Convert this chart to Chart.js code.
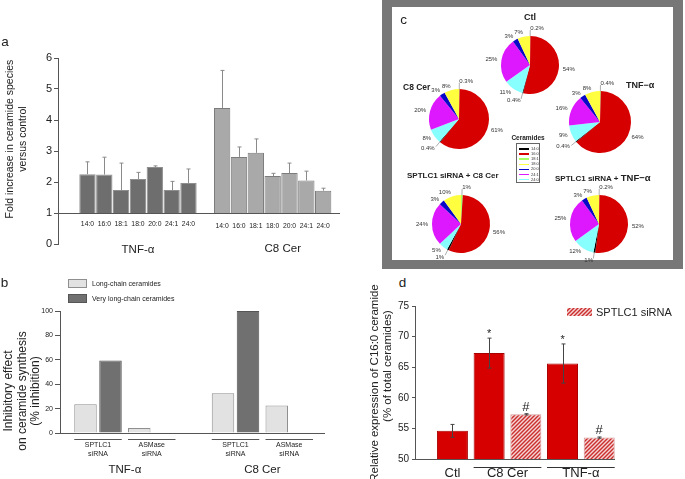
<!DOCTYPE html>
<html>
<head>
<meta charset="utf-8">
<script src="https://cdn.jsdelivr.net/npm/chart.js@4.4.0/dist/chart.umd.min.js"></script>
<style>
  html, body { margin: 0; padding: 0; background: #fff; }
  body { width: 685px; height: 479px; position: relative; overflow: hidden;
         font-family: "Liberation Sans", Arial, sans-serif; color: #222; }
  .box { position: absolute; }
  .t { position: absolute; white-space: nowrap; line-height: 1; text-align: center; }
  #frame { position: absolute; left: 382px; top: 0; width: 281px; height: 253px;
           border-style: solid; border-color: #777; border-width: 7px 10px 9px 10px; background: #fff; }
</style>
</head>
<body>
<div id="frame"></div>
<div class="box" style="left:0;top:40px;width:345px;height:222px"><canvas id="chartA"></canvas></div>
<div class="box" style="left:0;top:270px;width:345px;height:209px"><canvas id="chartB"></canvas></div>
<div class="box" style="left:355px;top:295px;width:330px;height:184px"><canvas id="chartD"></canvas></div>

<script>
// ---- panel a: fold increase per ceramide species
const aSpecies = ['14:0', '16:0', '18:1', '18:0', '20:0', '24:1', '24:0'];
const aGroups = ['TNF-α', 'C8 Cer'];
const aTnf = [2.25, 2.24, 1.74, 2.10, 2.48, 1.74, 1.97];
const aTnfErr = [0.40, 0.56, 0.87, 0.21, 0.04, 0.28, 0.45];
const aC8 = [4.39, 2.81, 2.94, 2.19, 2.29, 2.05, 1.72];
const aC8Err = [1.21, 0.32, 0.45, 0.09, 0.32, 0.30, 0.08];

// ---- panel b: % inhibition
const bSeries = ['Long-chain ceramides', 'Very long-chain ceramides'];
const bGroups = ['TNF-α', 'C8 Cer'];
const bTreatments = ['SPTLC1<siRNA', 'ASMase<siRNA', 'SPTLC1<siRNA', 'ASMase<siRNA'];
const bLong = [23.5, 4.0, 32.5, 22.5];
const bVeryLong = [59.5, 0.5, 100, 0.5];

// ---- panel c: ceramide composition pies (values in legend order)
const cSpecies = ['14:0', '16:0', '18:1', '18:0', '20:0', '24:1', '24:0'];
const cTitles = ['Ctl', 'C8 Cer', 'TNF−α', 'SPTLC1 siRNA + C8 Cer', 'SPTLC1 siRNA + TNF−α'];
const cCtl = [0.4, 54, 0.2, 7, 3, 25, 11];
const cC8 = [0.4, 61, 0.3, 8, 3, 20, 8];
const cTnf = [0.4, 64, 0.4, 8, 3, 16, 9];
const cSiC8 = [1, 56, 1, 10, 3, 24, 5];
const cSiTnf = [1, 52, 0.2, 7, 3, 25, 12];

// ---- panel d: relative C16:0
const dLabels = ['Ctl', 'C8 Cer', 'C8 Cer', 'TNF-α', 'TNF-α'];
const dSirna = [false, false, true, false, true];
const dValues = [54.6, 67.3, 57.3, 65.6, 53.5];
const dErr = [1.05, 2.45, 0.1, 3.2, 0.1];
const dMarks = ['', '*', '#', '*', '#'];
const dLegend = 'SPTLC1 siRNA';

const FONT = '"Liberation Sans", Arial, sans-serif';
Chart.defaults.font.family = FONT;
Chart.defaults.color = '#222';
Chart.defaults.animation = false;
Chart.defaults.responsive = true;
Chart.defaults.maintainAspectRatio = false;
Chart.defaults.plugins.legend.display = false;
Chart.defaults.plugins.tooltip.enabled = false;

function addText(html, x, y, o) {
  o = o || {};
  const d = document.createElement('div');
  d.className = 't';
  d.innerHTML = html;
  d.style.left = x + 'px';
  d.style.top = y + 'px';
  d.style.fontSize = (o.size || 12) + 'px';
  if (o.bold) d.style.fontWeight = 'bold';
  if (o.lh) d.style.lineHeight = o.lh + 'px';
  const ax = o.align === 'left' ? '0' : '-50%';
  d.style.transform = 'translate(' + ax + ',-50%)' + (o.rot ? ' rotate(-90deg)' : '');
  document.body.appendChild(d);
}

function yAxis(min, max, step, size, width, lineAt, tickLen, pad) {
  return {
    min: min, max: max,
    ticks: { stepSize: step, font: { size: size }, padding: pad, color: '#222' },
    border: { display: true, color: '#555', width: 1 },
    grid: {
      color: c => (c.tick && c.tick.value === lineAt) ? '#555' : 'rgba(0,0,0,0)',
      tickColor: '#555', tickLength: tickLen, lineWidth: 1
    },
    afterFit: s => { s.width = width; }
  };
}

const errorBars = {
  id: 'errorBars',
  afterDatasetsDraw(chart, args, opts) {
    const ctx = chart.ctx, y = chart.scales.y;
    ctx.save();
    ctx.strokeStyle = opts.color;
    ctx.lineWidth = 1;
    chart.data.datasets.forEach((ds, di) => {
      if (!ds.err) return;
      chart.getDatasetMeta(di).data.forEach((el, i) => {
        const v = y.getValueForPixel(el.y);
        const hi = y.getPixelForValue(v + ds.err[i]);
        const lo = opts.both ? y.getPixelForValue(v - ds.err[i]) : el.y;
        const x = Math.round(el.x) + 0.5;
        ctx.beginPath();
        ctx.moveTo(x, lo); ctx.lineTo(x, hi);
        ctx.moveTo(x - opts.cap, hi); ctx.lineTo(x + opts.cap, hi);
        if (opts.both) { ctx.moveTo(x - opts.cap, lo); ctx.lineTo(x + opts.cap, lo); }
        ctx.stroke();
        if (ds.marks && ds.marks[i]) {
          const m = ds.marks[i];
          ctx.fillStyle = '#222';
          ctx.textAlign = 'center';
          ctx.textBaseline = 'alphabetic';
          ctx.font = (m === '#' ? 13 : 11) + 'px ' + FONT;
          ctx.fillText(m, el.x, hi - (m === '#' ? 3 : 1));
        }
      });
    });
    ctx.restore();
  }
};

// ---------------- panel a
const aText = {
  id: 'aText',
  afterDraw(chart) {
    const { ctx, scales: { x, y } } = chart;
    ctx.save();
    ctx.fillStyle = '#222';
    ctx.textAlign = 'center';
    ctx.textBaseline = 'middle';
    ctx.font = '6.8px ' + FONT;
    const y1 = y.getPixelForValue(1);
    aSpecies.forEach((s, i) => {
      ctx.fillText(s, x.getPixelForValue(i), y1 + 11);
      ctx.fillText(s, x.getPixelForValue(i + 8), y1 + 13);
    });
    ctx.font = '11.5px ' + FONT;
    const y0 = y.getPixelForValue(0);
    ctx.fillText(aGroups[0], x.getPixelForValue(3), y0 + 6);
    ctx.fillText(aGroups[1], x.getPixelForValue(11.6), y0 + 5);
    ctx.restore();
  }
};

new Chart(document.getElementById('chartA'), {
  type: 'bar',
  data: {
    datasets: [
      { label: aGroups[0], data: aTnf.map((v, i) => ({ x: i, y: [1, v] })), err: aTnfErr,
        backgroundColor: '#6e6e6e', borderColor: '#8e8e8e', borderWidth: 1,
        grouped: false, barPercentage: 0.97, categoryPercentage: 1 },
      { label: aGroups[1], data: aC8.map((v, i) => ({ x: i + 8, y: [1, v] })), err: aC8Err,
        backgroundColor: '#a9a9a9', borderColor: '#7c7c7c', borderWidth: 1,
        grouped: false, barPercentage: 0.97, categoryPercentage: 1 }
    ]
  },
  options: {
    layout: { padding: { top: 18, right: 5, bottom: 18, left: 0 } },
    plugins: { errorBars: { color: '#8a8a8a', cap: 2, both: false } },
    scales: {
      x: { type: 'linear', display: false, min: -1.75, max: 15, offset: false },
      y: yAxis(0, 6, 1, 11, 58, 1, 4, 2)
    }
  },
  plugins: [errorBars, aText]
});

// ---------------- panel b
const bX = i => Math.floor(i / 2) * 55 + (i % 2) * 21.5;
const bText = {
  id: 'bText',
  afterDraw(chart) {
    const { ctx, chartArea, scales: { y } } = chart;
    const m0 = chart.getDatasetMeta(0).data, m1 = chart.getDatasetMeta(1).data;
    ctx.save();
    // legend
    ctx.textAlign = 'left';
    ctx.textBaseline = 'middle';
    ctx.font = '7px ' + FONT;
    chart.data.datasets.forEach((ds, i) => {
      const top = chartArea.top - 32 + i * 15;
      ctx.fillStyle = ds.backgroundColor;
      ctx.fillRect(chartArea.left + 8, top, 19, 9);
      ctx.strokeStyle = ds.borderColor;
      ctx.lineWidth = 1;
      ctx.strokeRect(chartArea.left + 8.5, top + 0.5, 18, 8);
      ctx.fillStyle = '#222';
      ctx.fillText(ds.label, chartArea.left + 32, top + 5);
    });
    // treatment brackets and labels
    const y0 = y.getPixelForValue(0);
    ctx.textAlign = 'center';
    ctx.strokeStyle = '#555';
    const ext = [];
    bTreatments.forEach((t, p) => {
      const l = m0[p].x - m0[p].width / 2, r = m1[p].x + m1[p].width / 2;
      ext.push([l, r]);
      ctx.beginPath();
      ctx.moveTo(l, y0 + 6.5); ctx.lineTo(r, y0 + 6.5);
      ctx.stroke();
      const lines = t.split('<');
      ctx.font = '7px ' + FONT;
      ctx.fillText(lines[0], (l + r) / 2, y0 + 12);
      ctx.fillText(lines[1], (l + r) / 2, y0 + 21);
    });
    ctx.font = '11.5px ' + FONT;
    bGroups.forEach((g, k) => {
      ctx.fillText(g, (ext[2 * k][0] + ext[2 * k + 1][1]) / 2, y0 + 37);
    });
    ctx.restore();
  }
};

new Chart(document.getElementById('chartB'), {
  type: 'bar',
  data: {
    datasets: [
      { label: bSeries[0], data: bLong.map((v, i) => ({ x: bX(i), y: v })),
        backgroundColor: '#e2e2e2', borderColor: '#8f8f8f', borderWidth: 1,
        grouped: false, barPercentage: 0.9, categoryPercentage: 1 },
      { label: bSeries[1], data: bVeryLong.map((v, i) => ({ x: bX(i) + 10, y: v })),
        backgroundColor: '#707070', borderColor: '#555555', borderWidth: 1,
        grouped: false, barPercentage: 0.9, categoryPercentage: 1 }
    ]
  },
  options: {
    layout: { padding: { top: 41, right: 20, bottom: 46, left: 0 } },
    scales: {
      x: { type: 'linear', display: false, min: -10.2, max: 95.8, offset: false },
      y: yAxis(0, 100, 20, 7, 60, 0, 5, 2)
    }
  },
  plugins: [bText]
});

// ---------------- panel c
const cColors = ['#000000', '#d60000', '#a6ff66', '#ffff40', '#0808c8', '#dd18ff', '#88ffff'];
const cOrder = [2, 1, 0, 6, 5, 4, 3]; // clockwise from 12 o'clock
const cSeries = [cCtl, cC8, cTnf, cSiC8, cSiTnf];
const pieBoxes = [[530, 65, 29], [459, 119, 30], [600, 122, 31], [461, 224, 29], [599, 224, 29]];

const pieLabels = {
  id: 'pieLabels',
  afterDatasetsDraw(chart) {
    const ctx = chart.ctx;
    const ds = chart.data.datasets[0];
    ctx.save();
    ctx.font = '6px ' + FONT;
    ctx.fillStyle = '#333';
    ctx.strokeStyle = '#777';
    ctx.lineWidth = 0.6;
    ctx.textBaseline = 'middle';
    chart.getDatasetMeta(0).data.forEach((arc, i) => {
      const v = ds.data[i];
      const a = (arc.startAngle + arc.endAngle) / 2;
      const small = v < 2;
      const r = arc.outerRadius + (small ? 8 : 4);
      const c = Math.cos(a), s = Math.sin(a);
      if (small) {
        ctx.beginPath();
        ctx.moveTo(arc.x + c * arc.outerRadius, arc.y + s * arc.outerRadius);
        ctx.lineTo(arc.x + c * (r - 2), arc.y + s * (r - 2));
        ctx.stroke();
      }
      ctx.textAlign = c >= 0 ? 'left' : 'right';
      ctx.fillText(v + '%', arc.x + c * r, arc.y + s * r);
    });
    ctx.restore();
  }
};

cSeries.forEach((vals, k) => {
  const [cx, cy, r] = pieBoxes[k];
  const box = document.createElement('div');
  box.className = 'box';
  box.style.cssText = 'left:' + (cx - 65) + 'px;top:' + (cy - 45) + 'px;width:130px;height:90px';
  const cv = document.createElement('canvas');
  box.appendChild(cv);
  document.body.appendChild(box);
  new Chart(cv, {
    type: 'pie',
    data: {
      labels: cOrder.map(j => cSpecies[j]),
      datasets: [{ data: cOrder.map(j => vals[j]), backgroundColor: cOrder.map(j => cColors[j]),
                   borderWidth: 0, hoverOffset: 0 }]
    },
    options: { layout: { padding: { left: 65 - r, right: 65 - r, top: 45 - r, bottom: 45 - r } } },
    plugins: [pieLabels]
  });
});

addText(cTitles[0], 530, 17, { size: 9, bold: true });
addText(cTitles[1], 403, 87, { size: 8.5, bold: true, align: 'left' });
addText(cTitles[2], 626, 85, { size: 9, bold: true, align: 'left' });
addText(cTitles[3], 407, 176, { size: 8, bold: true, align: 'left' });
addText(cTitles[4].replace('TNF−α', '<span style="font-size:9.5px">TNF−α</span>'), 555, 178, { size: 8, bold: true, align: 'left' });

// ceramides legend
addText('Ceramides', 528, 138, { size: 6.5, bold: true });
const lg = document.createElement('div');
lg.style.cssText = 'position:absolute;left:516px;top:143px;width:22px;height:38px;border:1px solid #666;background:#fff';
cSpecies.forEach((s, i) => {
  const row = document.createElement('div');
  row.style.cssText = 'position:absolute;left:2px;top:' + (3 + i * 5.1) + 'px;height:4px;width:20px';
  row.innerHTML = '<span style="position:absolute;left:0;top:1.3px;width:10px;height:1.5px;background:' + cColors[i] +
    '"></span><span style="position:absolute;left:12px;top:0;font-size:4px;line-height:4px;color:#333">' + s + '</span>';
  lg.appendChild(row);
});
document.body.appendChild(lg);

// ---------------- panel d
function hatch() {
  const c = document.createElement('canvas');
  c.width = 4; c.height = 4;
  const g = c.getContext('2d');
  g.fillStyle = '#f4d4d4';
  g.fillRect(0, 0, 4, 4);
  g.strokeStyle = '#cc2e2e';
  g.lineWidth = 1.4;
  g.beginPath();
  g.moveTo(0, 4); g.lineTo(4, 0);
  g.moveTo(-1, 1); g.lineTo(1, -1);
  g.moveTo(3, 5); g.lineTo(5, 3);
  g.stroke();
  return g.createPattern(c, 'repeat');
}
const hatchFill = hatch();
const pick = (arr, flag) => arr.filter((_, i) => dSirna[i] === flag);
const dPoints = dValues.map((v, i) => ({ x: i, y: v }));

const dText = {
  id: 'dText',
  afterDraw(chart) {
    const { ctx, chartArea, scales: { x, y } } = chart;
    const y0 = y.getPixelForValue(50);
    const half = chart.getDatasetMeta(0).data[0].width / 2;
    ctx.save();
    ctx.fillStyle = '#222';
    ctx.strokeStyle = '#333';
    ctx.lineWidth = 1;
    ctx.textAlign = 'center';
    ctx.textBaseline = 'middle';
    ctx.font = '13px ' + FONT;
    let i = 0;
    while (i < dLabels.length) {
      let j = i;
      while (j + 1 < dLabels.length && dLabels[j + 1] === dLabels[i]) j++;
      const l = x.getPixelForValue(i) - half, r = x.getPixelForValue(j) + half;
      if (j > i) {
        ctx.beginPath();
        ctx.moveTo(l, y0 + 8.5); ctx.lineTo(r, y0 + 8.5);
        ctx.stroke();
      }
      ctx.fillText(dLabels[i], (l + r) / 2, y0 + 14.5);
      i = j + 1;
    }
    // legend
    const lx = chartArea.right - 48, ly = chartArea.top + 2;
    ctx.fillStyle = hatchFill;
    ctx.fillRect(lx, ly, 25, 8);
    ctx.fillStyle = '#222';
    ctx.textAlign = 'left';
    ctx.font = '11px ' + FONT;
    ctx.fillText(dLegend, lx + 29, ly + 4.5);
    ctx.restore();
  }
};

new Chart(document.getElementById('chartD'), {
  type: 'bar',
  data: {
    datasets: [
      { label: 'Control', data: pick(dPoints, false), err: pick(dErr, false), marks: pick(dMarks, false),
        backgroundColor: '#d60000', borderColor: '#a80000', borderWidth: 1,
        grouped: false, barPercentage: 0.845, categoryPercentage: 1 },
      { label: dLegend, data: pick(dPoints, true), err: pick(dErr, true), marks: pick(dMarks, true),
        backgroundColor: hatchFill, borderColor: '#d89a9a', borderWidth: 1,
        grouped: false, barPercentage: 0.845, categoryPercentage: 1 }
    ]
  },
  options: {
    layout: { padding: { top: 11, right: 70, bottom: 20, left: 0 } },
    plugins: { errorBars: { color: '#444', cap: 2, both: true } },
    scales: {
      x: { type: 'linear', display: false, min: -1.02, max: 4.43, offset: false },
      y: yAxis(50, 75, 5, 10, 60, 50, 3, 3)
    }
  },
  plugins: [errorBars, dText]
});

// ---------------- panel letters and axis titles
addText('a', 5, 42, { size: 13.5 });
addText('b', 4.5, 283, { size: 13.5 });
addText('c', 403.5, 20, { size: 13.5 });
addText('d', 402.5, 283, { size: 13.5 });
addText('Fold increase in ceramide species<br>versus control', 15.5, 139, { size: 10.5, lh: 13, rot: true });
addText('Inhibitory effect<br>on ceramide synthesis<br>(% inhibition)', 21.5, 391, { size: 12, lh: 13.5, rot: true });
addText('Relative expression of C16:0 ceramide', 375, 383, { size: 11.5, rot: true });
addText('(% of total ceramides)', 388, 366, { size: 11.5, rot: true });
</script>
</body>
</html>
